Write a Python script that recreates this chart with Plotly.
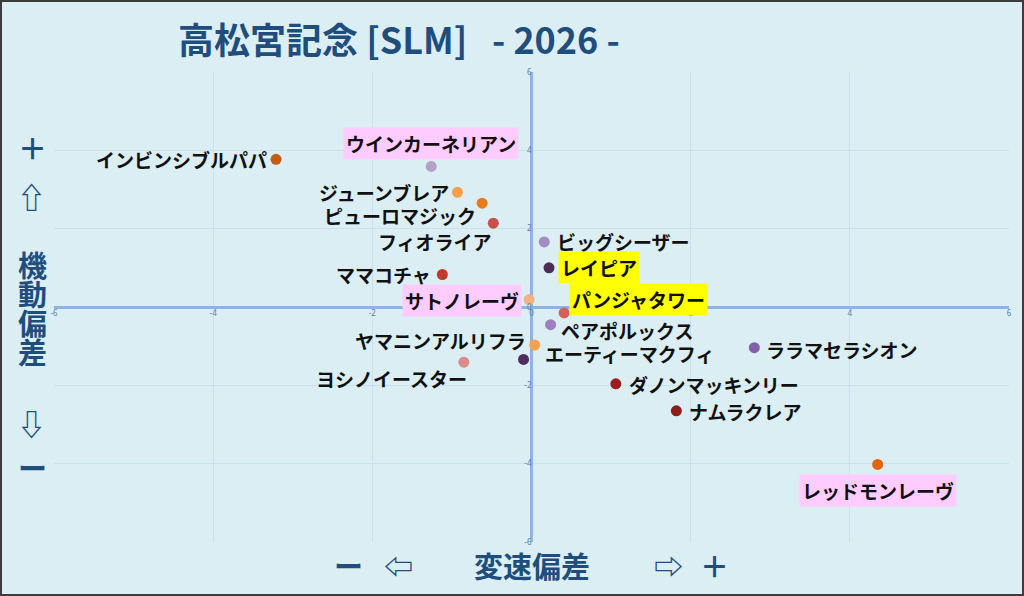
"""高松宮記念 [SLM] 2026 - 変速偏差 / 機動偏差 scatter"""
import plotly.graph_objects as go

W, H = 1024, 596
M_L, M_R, M_T, M_B = 54, 15, 72, 54

BG_COLOR = "#DAEEF3"
TITLE_COLOR = "#1F4E7D"
AXIS_COLOR = "#8DB4E2"
GRID_COLOR = "#C9E1EC"
TICK_COLOR = "#5B7FA6"
FONT_JP = "Noto Sans CJK JP, DejaVu Sans"

# data
horses = [
  "インビンシブルパパ", "ウインカーネリアン", "ジューンブレア", "ピューロマジック",
  "フィオライア", "ママコチャ", "サトノレーヴ", "ビッグシーザー", "レイピア",
  "パンジャタワー", "ペアポルックス", "エーティーマクフィ", "ヤマニンアルリフラ",
  "ヨシノイースター", "ララマセラシオン", "ダノンマッキンリー", "ナムラクレア",
  "レッドモンレーヴ",
]
speed_dev = [-3.21, -1.26, -0.93, -0.62, -0.48, -1.12, -0.03, 0.16, 0.22,
             0.41, 0.24, 0.04, -0.10, -0.85, 2.80, 1.06, 1.82, 4.35]
agility_dev = [3.77, 3.59, 2.93, 2.65, 2.14, 0.83, 0.19, 1.66, 1.00,
               -0.15, -0.45, -0.97, -1.34, -1.41, -1.04, -1.96, -2.65, -4.02]
tick_vals = [-6, -4, -2, 0, 2, 4, 6]
tick_text = ["-6", "-4", "-2", "0", "2", "4", "6"]

# styles per horse
dot_colors = [
  "#C55A11", "#B3A2C7", "#F6A04D", "#E87A1E", "#C9504A", "#C0392B",
  "#F2B283", "#A58BC3", "#4A2C55", "#D4605A", "#A07EC0", "#F7A050",
  "#4E2E5E", "#D98C8A", "#8061A8", "#9C1F1F", "#8C1E1E", "#E2640C",
]
label_bg = {
  "ウインカーネリアン": "#FFCCFF", "サトノレーヴ": "#FFCCFF", "レッドモンレーヴ": "#FFCCFF",
  "レイピア": "#FFFF00", "パンジャタワー": "#FFFF00",
}
# (xanchor, xshift, yshift)
label_pos = [
  ("right", -8, 0), ("center", 0, 23), ("right", -7, 0), ("right", -5, -12),
  ("right", 0, -18), ("right", -10, 0), ("right", -7, -1), ("left", 12, 0),
  ("left", 9, 0), ("left", 5, 13), ("left", 9, -6), ("left", 9, -9),
  ("right", 3, 19), ("right", 4, -16), ("left", 11, -2), ("left", 12, -1),
  ("left", 12, -1), ("center", 0, -26),
]


def px(x, y):
  """pixel position in the page -> paper coords"""
  return ((x - M_L) / (W - M_L - M_R), (H - M_B - y) / (H - M_T - M_B))


fig = go.Figure()
fig.add_trace(go.Scatter(
  x=speed_dev, y=agility_dev, mode="markers",
  marker=dict(size=11, color=dot_colors, line=dict(width=0)),
  text=horses, hoverinfo="text",
))

annotations = []
for name, x, y, (anchor, xs, ys) in zip(horses, speed_dev, agility_dev, label_pos):
  bg = label_bg.get(name)
  annotations.append(dict(
    x=x, y=y, xref="x", yref="y", text=name, showarrow=False,
    xanchor=anchor, yanchor="middle", xshift=xs, yshift=ys,
    font=dict(family=FONT_JP, size=19, color="#111111", weight="bold"),
    bgcolor=bg, borderpad=2 if bg else 0,
  ))

# title
tx, ty = px(176, 38)
annotations.append(dict(
  x=tx, y=ty, xref="paper", yref="paper", xanchor="left", yanchor="middle",
  showarrow=False,
  text="高松宮記念 [SLM]&nbsp;&nbsp;&nbsp;- 2026 -",
  font=dict(family=FONT_JP, size=36, color=TITLE_COLOR, weight="bold"),
))

# side captions
side_font = dict(family=FONT_JP, size=29, color=TITLE_COLOR, weight="bold")
for text, (x, y) in [
  ("＋", (32, 147)), ("⇧", (31, 196)),
  ("機", (32, 264)), ("動", (32, 293)), ("偏", (32, 322)), ("差", (32, 351)),
  ("⇩", (31, 423)), ("ー", (32, 467)),
  ("ー", (348, 565)), ("⇦", (398, 565)), ("変速偏差", (532, 565)),
  ("⇨", (668, 565)), ("＋", (714, 565)),
]:
  ax, ay = px(x, y)
  annotations.append(dict(
    x=ax, y=ay, xref="paper", yref="paper", text=text, showarrow=False,
    xanchor="center", yanchor="middle", font=side_font,
  ))

x0, y0 = px(1, 595)
x1, y1 = px(1023, 1)
fig.add_shape(type="rect", xref="paper", yref="paper", x0=x0, y0=y0, x1=x1, y1=y1,
              line=dict(color="#3C3C3C", width=2), layer="above")

axis_common = dict(
  range=[-6, 6], tickvals=tick_vals, ticktext=tick_text,
  tickfont=dict(family="Noto Sans", size=8, color=TICK_COLOR),
  showgrid=True, gridcolor=GRID_COLOR, gridwidth=1,
  zeroline=True, zerolinecolor=AXIS_COLOR, zerolinewidth=3,
  showline=False, anchor="free", position=0.5, ticks="",
  fixedrange=True,
)
fig.update_xaxes(**axis_common)
fig.update_yaxes(**axis_common)
fig.update_layout(
  width=W, height=H,
  margin=dict(l=M_L, r=M_R, t=M_T, b=M_B),
  paper_bgcolor=BG_COLOR, plot_bgcolor=BG_COLOR,
  showlegend=False, annotations=annotations,
)

fig.write_html("out.html", config={"displayModeBar": False},
               post_script="document.body.style.margin = '0';")
